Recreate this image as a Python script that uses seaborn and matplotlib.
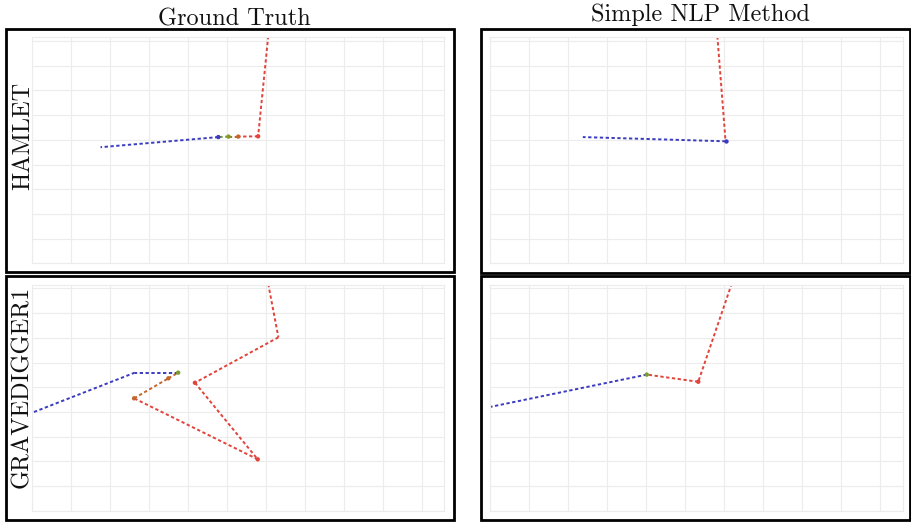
import matplotlib
matplotlib.use("Agg")
import matplotlib.pyplot as plt
from matplotlib.patches import Rectangle
import numpy as np
import pandas as pd
import seaborn as sns

# ---- data: trajectories on the stage grid ----
col_titles = ["Ground Truth", "Simple NLP Method"]
row_labels = ["HAMLET", "GRAVEDIGGER1"]

hamlet_gt_x = [6.05, 5.79, 5.28, 5.03, 4.77, 1.75]
hamlet_gt_y = [9.20, 5.14, 5.13, 5.13, 5.11, 4.70]
hamlet_gt_seg = ["red", "red", "orange", "green", "blue"]
hamlet_gt_pt = [None, "red", "orange", "green", "blue", None]

hamlet_nlp_x = [5.83, 6.04, 2.38]
hamlet_nlp_y = [9.19, 4.94, 5.11]
hamlet_nlp_seg = ["red", "blue"]
hamlet_nlp_pt = [None, "blue", None]

grave_gt_x = [6.05, 6.31, 4.17, 5.78, 2.61, 3.49, 3.74, 2.63, 0.00]
grave_gt_y = [9.18, 7.02, 5.18, 2.08, 4.55, 5.36, 5.59, 5.59, 3.97]
grave_gt_seg = ["red", "red", "red", "red", "orange", "orange", "blue", "blue"]
grave_gt_pt = [None, None, "red", "red", "orange", "orange", "green", None, None]

grave_nlp_x = [6.20, 5.34, 4.02, 0.00]
grave_nlp_y = [9.20, 5.22, 5.51, 4.20]
grave_nlp_seg = ["red", "red", "blue"]
grave_nlp_pt = [None, "red", "green", None]

palette = {"red": "#e2433b", "orange": "#c2662c", "green": "#7c9c2c", "blue": "#3b3bbf"}

panels = [
    (hamlet_gt_x, hamlet_gt_y, hamlet_gt_seg, hamlet_gt_pt),
    (hamlet_nlp_x, hamlet_nlp_y, hamlet_nlp_seg, hamlet_nlp_pt),
    (grave_gt_x, grave_gt_y, grave_gt_seg, grave_gt_pt),
    (grave_nlp_x, grave_nlp_y, grave_nlp_seg, grave_nlp_pt),
]

sns.set_theme(style="whitegrid")
plt.rcParams["axes.formatter.use_mathtext"] = True
plt.rcParams["mathtext.fontset"] = "cm"

W, H = 912, 522
fig = plt.figure(figsize=(W / 100, H / 100), dpi=100)


def fx(px):
    return px / W


def fy(py):
    return 1 - py / H


# axes boxes in pixels: (left, top, right, bottom)
boxes = [
    (32.3, 37.3, 444.3, 263.3),
    (490.0, 37.3, 903.3, 263.3),
    (32.3, 285.0, 444.3, 510.7),
    (490.0, 285.0, 903.3, 510.7),
]
frames = [
    (6.2, 28.7, 454.2, 272.0),
    (481.2, 28.7, 910.3, 272.5),
    (6.2, 275.8, 454.2, 519.5),
    (481.2, 276.2, 910.3, 519.5),
]

for (l, t, r, b), (xs, ys, seg, pt) in zip(boxes, panels):
    ax = fig.add_axes([fx(l), fy(b), fx(r - l), (b - t) / H])
    rows = []
    for i, c in enumerate(seg):
        rows.append({"x": xs[i], "y": ys[i], "seg": i, "phase": c})
        rows.append({"x": xs[i + 1], "y": ys[i + 1], "seg": i, "phase": c})
    df = pd.DataFrame(rows)
    sns.lineplot(data=df, x="x", y="y", hue="phase", units="seg", estimator=None,
                 sort=False, palette=palette, legend=False, ax=ax,
                 linewidth=1.4, linestyle=(0, (1.7, 1.3)))
    pts = pd.DataFrame({"x": xs, "y": ys, "phase": pt}).dropna()
    sns.scatterplot(data=pts, x="x", y="y", hue="phase", palette=palette,
                    legend=False, ax=ax, s=10, linewidth=0, zorder=5)
    ax.set_xlim(0, (r - l) / 39.0)
    ax.set_ylim(0, (b - t) / 24.7)
    ax.set_xticks(np.arange(0, 11))
    ax.set_yticks(np.arange(0, 10))
    ax.set_xticklabels([])
    ax.set_yticklabels([])
    ax.tick_params(length=0)
    ax.set_xlabel("")
    ax.set_ylabel("")
    ax.grid(True, color="#ececec", linewidth=0.8)
    for s in ax.spines.values():
        s.set_visible(True)
        s.set_color("#ececec")
        s.set_linewidth(0.8)
    ax.set_facecolor("white")

for (l, t, r, b) in frames:
    fig.add_artist(Rectangle((fx(l), fy(b)), fx(r - l), (b - t) / H,
                             transform=fig.transFigure, fill=False,
                             edgecolor="black", linewidth=2.0, zorder=10))

tfont = dict(family="cmr10", size=17.5, color="#111111")
fig.text(fx(234), fy(25), col_titles[0], ha="center", va="baseline", **tfont)
fig.text(fx(700), fy(21), col_titles[1], ha="center", va="baseline", **tfont)
fig.text(fx(23.3), fy(135.8), row_labels[0], ha="center", va="center", rotation=90, **tfont)
fig.text(fx(22.5), fy(386.7), row_labels[1], ha="center", va="center", rotation=90, **tfont)

fig.savefig("out.png", dpi=100, facecolor="white")
